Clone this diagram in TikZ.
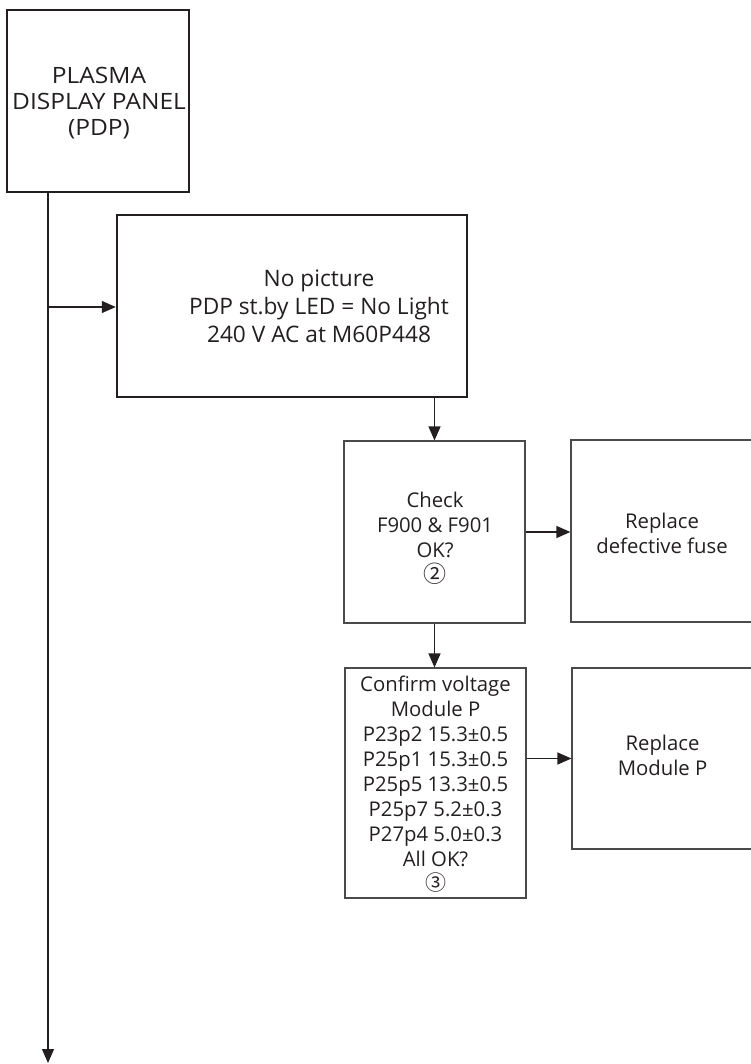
\documentclass[tikz,border=0pt]{standalone}
\usepackage{fontspec}
\setmainfont{Open Sans}
\newfontfamily\widefont{Open Sans}[FakeStretch=1.09]
\newfontfamily\symfont{Noto Sans CJK SC}
\usetikzlibrary{arrows.meta}
\definecolor{ink}{HTML}{231F20}
\definecolor{thin}{HTML}{4A4A4A}
\begin{document}
\begin{tikzpicture}[x=1pt,y=-1pt,
  thickbox/.style={draw=ink, line width=2.5pt, inner sep=0pt},
  thinbox/.style={draw=thin, line width=1.2pt, inner sep=0pt},
  boxtext/.style={inner sep=0pt, align=center, text=ink},
  small/.style={boxtext, font=\fontsize{20.3}{25}\selectfont},
  conn/.style={draw=ink, line width=1.3pt},
  arr/.style={conn, -{Triangle[length=14pt,width=12pt]}}]
\useasboundingbox (0,0) rectangle (750,1064);
% boxes
\node[thickbox, minimum width=182pt, minimum height=182pt] (pdp) at (98,101) {};
\node[thickbox, minimum width=350pt, minimum height=182pt] (big) at (292,306) {};
\node[thinbox, minimum width=181pt, minimum height=182pt] (check) at (434.5,532) {};
\node[thinbox, minimum width=182pt, minimum height=182pt] (fuse) at (662,531) {};
\node[thinbox, minimum width=181pt, minimum height=230pt] (confirm) at (435.5,783) {};
\node[thinbox, minimum width=181pt, minimum height=181pt] (modp) at (662.5,758.5) {};
% texts
\node[boxtext, font=\widefont\fontsize{22.5}{26}\selectfont] (pdpt) at (99,103)
  {PLASMA\\DISPLAY PANEL\\(PDP)};
\node[boxtext, font=\fontsize{22.7}{28}\selectfont] (bigt) at (319,306)
  {No picture\\PDP st.by LED = No Light\\240 V AC at M60P448};
\node[small] (checkt) at (435,538)
  {Check\\F900 \& F901\\OK?\\{\symfont\fontsize{23}{25}\selectfont ②}};
\node[small] (fuset) at (662,533) {Replace\\defective fuse};
\node[small] (confirmt) at (435.5,784)
  {Confirm voltage\\Module P\\P23p2 15.3±0.5\\P25p1 15.3±0.5\\P25p5 13.3±0.5\\P25p7 5.2±0.3\\P27p4 5.0±0.3\\All OK?\\[-1pt]{\symfont\fontsize{21}{20}\selectfont ③}};
\node[small] (modpt) at (662.5,755) {Replace\\Module P};
% connectors
\coordinate (top) at (48,192);
\coordinate (j) at (48,307);
\coordinate (end) at (48,1063);
\draw[arr] (top) -- (end);
\draw[arr] (j) -- (j -| big.west);
\draw[arr] (big.south -| check.north) -- (check.north);
\draw[arr] (check.east) -- (check.east -| fuse.west);
\draw[arr] (check.south) -- (check.south |- confirm.north);
\draw[arr] (confirm.east |- modp.west) -- (modp.west);
\end{tikzpicture}
\end{document}
